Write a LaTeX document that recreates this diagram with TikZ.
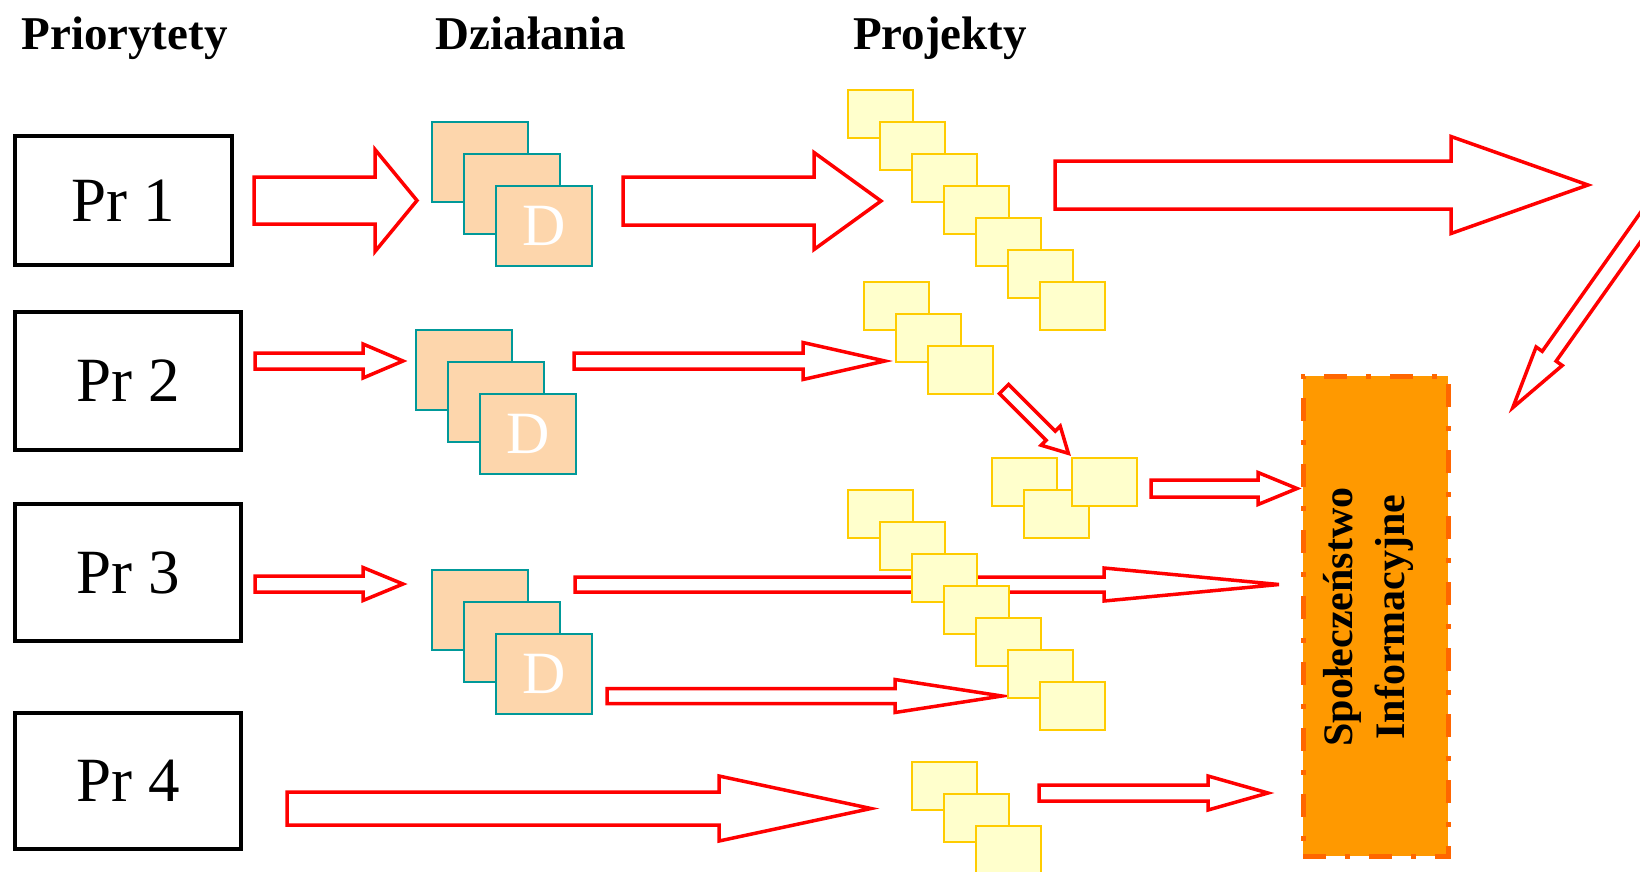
\documentclass[tikz,border=0pt]{standalone}
\usepackage{fontspec}
\setmainfont{Liberation Serif}
\definecolor{arrred}{RGB}{255,0,0}
\definecolor{peach}{RGB}{253,214,172}
\definecolor{tealb}{RGB}{0,153,153}
\definecolor{ylwfill}{RGB}{255,255,204}
\definecolor{ylwdraw}{RGB}{255,204,0}
\definecolor{orfill}{RGB}{255,153,0}
\definecolor{ordraw}{RGB}{255,102,0}
\tikzset{
 prbox/.style={draw=black, line width=4.5, fill=white, font=\fontsize{63}{70}\selectfont, inner sep=0},
 dbox/.style={draw=tealb, line width=2, fill=peach, minimum width=96, minimum height=80, anchor=north west, inner sep=0, font=\fontsize{60}{60}\selectfont, text=white},
 ybox/.style={draw=ylwdraw, line width=1.5, fill=ylwfill, minimum width=65, minimum height=48, anchor=north west, inner sep=0},
 blockarrow/.style={draw=arrred, line width=3.5, fill=white, line join=miter},
 heading/.style={font=\fontsize{47}{56}\selectfont\bfseries, anchor=base, inner sep=0},
 orbox/.style={draw=ordraw, fill=orfill, line width=5, dash pattern=on 23pt off 19pt on 5pt off 19pt, minimum width=145, minimum height=480, inner sep=0},
}
% name, x0, y0, angle, length, head length, shaft half width, head half width
\newcommand{\blockarr}[8]{%
 \draw[blockarrow, shift={(#2,#3)}, rotate=#4] (0,-#7) coordinate (#1-tail) -- (#5-#6,-#7) -- (#5-#6,-#8) -- (#5,0) coordinate (#1-tip) -- (#5-#6,#8) -- (#5-#6,#7) -- (0,#7) -- cycle;}
\begin{document}
\begin{tikzpicture}[x=1pt,y=-1pt]
\useasboundingbox (0,0) rectangle (1640,871);
\clip (0,0) rectangle (1640,871);
% headings
\node[heading] (h1) at (124.5,49) {Priorytety};
\node[heading] (h2) at (531,49) {Działania};
\node[heading] (h3) at (940,49) {Projekty};
% priorities
\node[prbox, minimum width=217, minimum height=129] (pr1) at (123.5,200.5) {Pr 1};
\node[prbox, minimum width=226, minimum height=138] (pr2) at (128,381) {Pr 2};
\node[prbox, minimum width=226, minimum height=137] (pr3) at (128,572.5) {Pr 3};
\node[prbox, minimum width=226, minimum height=136] (pr4) at (128,781) {Pr 4};
% actions
\node[dbox] (d1a) at (431,121) {};
\node[dbox] (d1b) at (463,153) {};
\node[dbox] (d1c) at (495,185) {D};
\node[dbox] (d2a) at (415,329) {};
\node[dbox] (d2b) at (447,361) {};
\node[dbox] (d2c) at (479,393) {D};
\node[dbox] (d3a) at (431,569) {};
\node[dbox] (d3b) at (463,601) {};
\node[dbox] (d3c) at (495,633) {D};
% arrows
\blockarr{a1}{254}{200.5}{0}{163}{42}{23.5}{51}
\blockarr{a2}{623}{201}{0}{258}{67}{24}{48.5}
\blockarr{a3}{1055}{185}{0}{533}{137}{24}{48.5}
\blockarr{a5}{255}{361}{0}{148}{40}{8}{17}
\blockarr{a6}{574}{361}{0}{311}{82}{8}{18.5}
\blockarr{a8}{1151}{488.5}{0}{146}{39}{8.5}{16}
\blockarr{a9}{255}{584}{0}{148}{40}{8}{16.5}
\blockarr{a10}{575}{584.5}{0}{704}{175}{7.5}{16.5}
\blockarr{a11}{607}{696}{0}{395}{107}{7.5}{16.5}
\blockarr{a12}{287}{808.5}{0}{584}{152}{16.5}{32.5}
\blockarr{a13}{1039}{793}{0}{229}{60}{8}{17}
\blockarr{a7}{1004}{389}{-45}{91}{25}{6.5}{13.5}
\blockarr{a4}{1715}{122}{-125.3}{350}{63}{8.5}{16}
% projects group 1
\foreach \i in {0,...,6}{
 \node[ybox] (p1-\i) at (847+32*\i,89+32*\i) {};
}
% group 2
\foreach \i in {0,...,2}{
 \node[ybox] (p2-\i) at (863+32*\i,281+32*\i) {};
}
\node[ybox] (q1) at (991,457) {};
\node[ybox] (q2) at (1023,489) {};
\node[ybox] (q3) at (1071,457) {};
% group 3
\foreach \i in {0,...,6}{
 \node[ybox] (p3-\i) at (847+32*\i,489+32*\i) {};
}
% group 4
\foreach \i in {0,...,2}{
 \node[ybox] (p4-\i) at (911+32*\i,761+32*\i) {};
}
% information society
\node[orbox] (si) at (1375.5,616) {};
\node[rotate=90, align=center, font=\fontsize{42}{52}\selectfont\bfseries, inner sep=0] (sitext) at (1368,617) {Społeczeństwo\\Informacyjne};
\end{tikzpicture}
\end{document}
